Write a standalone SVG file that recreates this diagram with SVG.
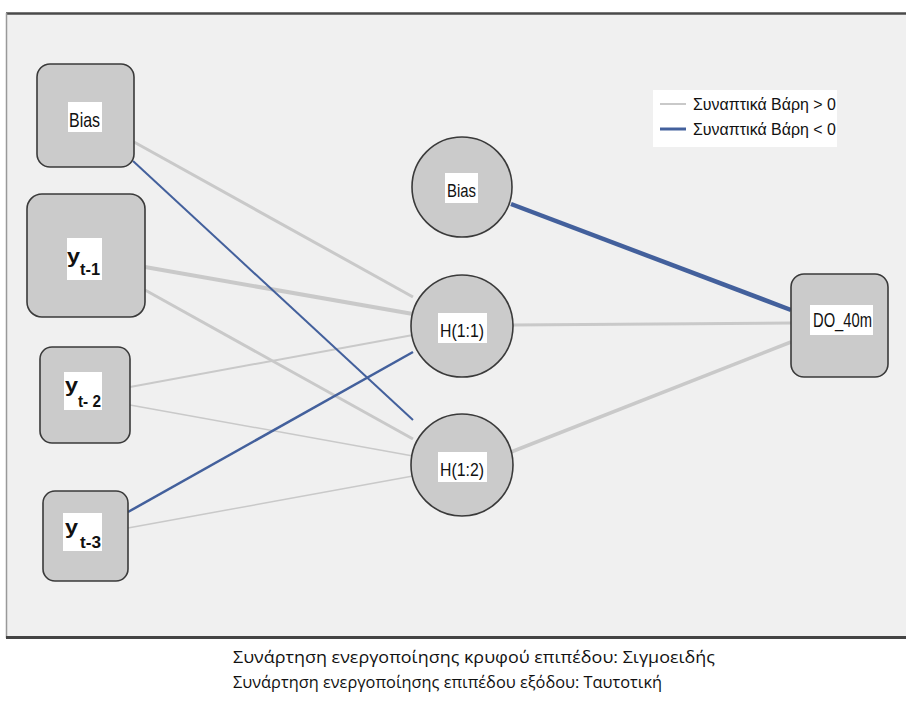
<svg xmlns="http://www.w3.org/2000/svg" width="906" height="702" viewBox="0 0 906 702">
<style>
.node{fill:#cbcbcb;stroke:#3a3a3a;stroke-width:1.6}
.lbl{fill:#ffffff;stroke:none}
.t{font-family:"Liberation Sans",Arial,sans-serif;fill:#111}
.pos{stroke:#c9c9c9;fill:none;stroke-linecap:butt}
.neg{stroke:#43609c;fill:none}
.cap{font-family:"Open Sans","Noto Sans",sans-serif;font-size:15.5px;fill:#111}
</style>
<rect x="0" y="0" width="906" height="702" fill="#ffffff"/>
<g id="frame">
<rect x="6" y="13" width="902" height="625" fill="#f0f0f0"/>
<line x1="6" y1="13.5" x2="906" y2="13.5" stroke="#4a4a4a" stroke-width="2.5"/>
<line x1="6.5" y1="13" x2="6.5" y2="638" stroke="#999" stroke-width="1.5"/>
<line x1="6" y1="637.5" x2="906" y2="637.5" stroke="#444" stroke-width="3"/>
</g>
<g id="connectors">
<line class="pos" x1="134" y1="142" x2="413" y2="297" stroke-width="3"/>
<line class="pos" x1="145" y1="267" x2="413" y2="314" stroke-width="4"/>
<line class="pos" x1="145" y1="290" x2="413" y2="439" stroke-width="3"/>
<line class="pos" x1="130" y1="387" x2="413" y2="335" stroke-width="2"/>
<line class="pos" x1="130" y1="405" x2="413" y2="456" stroke-width="1.5"/>
<line class="pos" x1="128" y1="528" x2="413" y2="476" stroke-width="1.5"/>
<line class="neg" x1="133" y1="161" x2="413" y2="420" stroke-width="2"/>
<line class="neg" x1="128" y1="512" x2="413" y2="352" stroke-width="2.5"/>
<line class="neg" x1="511" y1="204" x2="791" y2="310" stroke-width="4.5" stroke="#3d5a96"/>
<line class="pos" x1="512" y1="325" x2="791" y2="323" stroke-width="3"/>
<line class="pos" x1="511" y1="452" x2="791" y2="342" stroke-width="3.5"/>
</g>
<g id="in_bias">
<rect class="node" x="37" y="64" width="97" height="103" rx="13"/>
<rect class="lbl" x="68" y="102" width="34" height="30"/>
<text class="t" x="69" y="127" font-size="21" textLength="31" lengthAdjust="spacingAndGlyphs">Bias</text>
</g>
<g id="in_yt1">
<rect class="node" x="27" y="194" width="118" height="123" rx="15"/>
<rect class="lbl" x="67" y="238" width="35" height="42"/>
<text class="t" x="67" y="263" font-size="20" font-weight="bold" textLength="13" lengthAdjust="spacingAndGlyphs">y</text>
<text class="t" x="80" y="275" font-size="17" font-weight="bold" textLength="20" lengthAdjust="spacingAndGlyphs">t-1</text>
</g>
<g id="in_yt2">
<rect class="node" x="40" y="347" width="90" height="96" rx="12"/>
<rect class="lbl" x="64" y="372" width="38" height="38"/>
<text class="t" x="65" y="392" font-size="20" font-weight="bold" textLength="13" lengthAdjust="spacingAndGlyphs">y</text>
<text class="t" x="78" y="407" font-size="16" font-weight="bold" textLength="23" lengthAdjust="spacingAndGlyphs">t- 2</text>
</g>
<g id="in_yt3">
<rect class="node" x="43" y="491" width="85" height="90" rx="12"/>
<rect class="lbl" x="63" y="513" width="39" height="38"/>
<text class="t" x="65" y="534" font-size="20" font-weight="bold" textLength="13" lengthAdjust="spacingAndGlyphs">y</text>
<text class="t" x="80" y="548" font-size="16" font-weight="bold" textLength="21" lengthAdjust="spacingAndGlyphs">t-3</text>
</g>
<g id="h_bias">
<circle class="node" cx="462" cy="187" r="50"/>
<rect class="lbl" x="445" y="173" width="33" height="30"/>
<text class="t" x="447" y="197" font-size="19" textLength="29" lengthAdjust="spacingAndGlyphs">Bias</text>
</g>
<g id="h11">
<circle class="node" cx="462" cy="326" r="51"/>
<rect class="lbl" x="438" y="313" width="49" height="30"/>
<text class="t" x="440" y="337" font-size="19" textLength="44" lengthAdjust="spacingAndGlyphs">H(1:1)</text>
</g>
<g id="h12">
<circle class="node" cx="462" cy="465" r="51"/>
<rect class="lbl" x="438" y="452" width="49" height="30"/>
<text class="t" x="440" y="476" font-size="19" textLength="44" lengthAdjust="spacingAndGlyphs">H(1:2)</text>
</g>
<g id="out_do">
<rect class="node" x="791" y="274" width="97" height="103" rx="13"/>
<rect class="lbl" x="810" y="305" width="63" height="30"/>
<text class="t" x="813" y="327" font-size="20" textLength="59" lengthAdjust="spacingAndGlyphs">DO_40m</text>
</g>
<g id="legend">
<rect x="653" y="90" width="184" height="57" fill="#ffffff"/>
<line x1="660" y1="104" x2="686" y2="104" stroke="#c9c9c9" stroke-width="2"/>
<line x1="660" y1="129" x2="686" y2="129" stroke="#43609c" stroke-width="3"/>
<text class="t" x="693" y="110" font-size="16" textLength="143" lengthAdjust="spacingAndGlyphs">Συναπτικά Βάρη &gt; 0</text>
<text class="t" x="693" y="135" font-size="16" textLength="143" lengthAdjust="spacingAndGlyphs">Συναπτικά Βάρη &lt; 0</text>
</g>
<g id="caption">
<text class="cap" x="233" y="663" textLength="482" lengthAdjust="spacingAndGlyphs">Συνάρτηση ενεργοποίησης κρυφού επιπέδου: Σιγμοειδής</text>
<text class="cap" x="233" y="688" textLength="429" lengthAdjust="spacingAndGlyphs">Συνάρτηση ενεργοποίησης επιπέδου εξόδου: Ταυτοτική</text>
</g>
</svg>
